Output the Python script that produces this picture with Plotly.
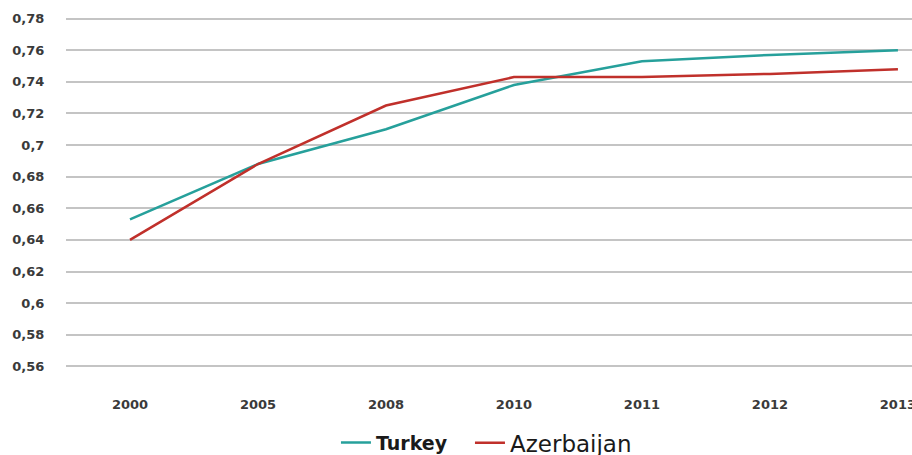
import plotly.graph_objects as go

years = ["2000", "2005", "2008", "2010", "2011", "2012", "2013"]
turkey = [0.653, 0.688, 0.710, 0.738, 0.753, 0.757, 0.760]
azerbaijan = [0.640, 0.688, 0.725, 0.743, 0.743, 0.745, 0.748]
y_ticks = [0.56, 0.58, 0.60, 0.62, 0.64, 0.66, 0.68, 0.70, 0.72, 0.74, 0.76, 0.78]
y_labels = ["0,56", "0,58", "0,6", "0,62", "0,64", "0,66", "0,68", "0,7", "0,72", "0,74", "0,76", "0,78"]

fig = go.Figure()
fig.add_trace(go.Scatter(x=years, y=turkey, mode="lines", name="<b>Turkey</b>",
                         legend="legend",
                         line=dict(color="#26a09b", width=2.5)))
fig.add_trace(go.Scatter(x=years, y=azerbaijan, mode="lines", name="Azerbaijan",
                         legend="legend2",
                         line=dict(color="#c0302b", width=2.5)))

fig.update_layout(
    width=912, height=455,
    margin=dict(l=66, r=0, t=17, b=87, autoexpand=False),
    plot_bgcolor="white", paper_bgcolor="white",
    font=dict(family="DejaVu Sans", color="#3a3a3a"),
    showlegend=True,
    legend=dict(orientation="h", x=0.3191, xanchor="left",
                yref="container", y=0.027, yanchor="middle",
                font=dict(size=19, color="#1a1a1a", family="DejaVu Sans")),
    legend2=dict(orientation="h", x=0.4775, xanchor="left",
                 yref="container", y=0.027, yanchor="middle",
                 font=dict(size=23, color="#1a1a1a", family="DejaVu Sans")),
    xaxis=dict(type="category", range=[-0.5, 6.11], showgrid=False, showline=False,
               automargin=False,
               ticks="outside", ticklen=24, tickcolor="rgba(0,0,0,0)",
               tickfont=dict(size=13, family="DejaVu Sans", weight="bold", color="#3a3a3a")),
    yaxis=dict(range=[0.559, 0.781], tickvals=y_ticks, ticktext=y_labels,
               automargin=False,
               showgrid=True, gridcolor="#c4c4c4", gridwidth=2, zeroline=False, showline=False,
               ticks="outside", ticklen=18, tickcolor="rgba(0,0,0,0)",
               tickfont=dict(size=13, family="DejaVu Sans", weight="bold", color="#3a3a3a")),
)

fig.write_html("out.html", config={"displayModeBar": False},
               post_script="document.body.style.margin='0';document.body.style.overflow='hidden';")
